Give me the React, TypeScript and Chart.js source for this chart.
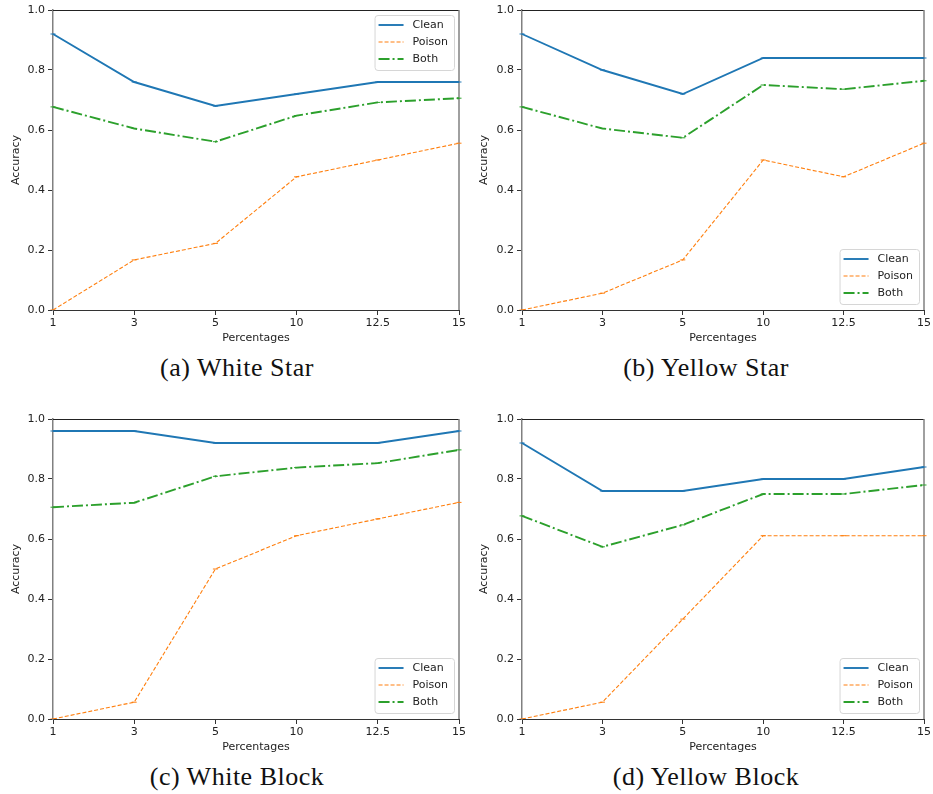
import React, { useEffect, useRef } from 'react';
import { Chart, registerables } from 'chart.js';

Chart.register(...registerables);

const percentages = ['1', '3', '5', '10', '12.5', '15'];
const yTicks = [0, 0.2, 0.4, 0.6, 0.8, 1.0];

const whiteStarClean = [0.92, 0.76, 0.68, 0.72, 0.76, 0.76];
const whiteStarPoison = [0.0, 0.167, 0.222, 0.444, 0.5, 0.556];
const whiteStarBoth = [0.677, 0.605, 0.561, 0.648, 0.692, 0.706];

const yellowStarClean = [0.92, 0.8, 0.72, 0.84, 0.84, 0.84];
const yellowStarPoison = [0.0, 0.056, 0.167, 0.5, 0.444, 0.556];
const yellowStarBoth = [0.677, 0.605, 0.574, 0.75, 0.736, 0.764];

const whiteBlockClean = [0.96, 0.96, 0.92, 0.92, 0.92, 0.96];
const whiteBlockPoison = [0.0, 0.056, 0.5, 0.611, 0.667, 0.722];
const whiteBlockBoth = [0.706, 0.721, 0.809, 0.838, 0.853, 0.897];

const yellowBlockClean = [0.92, 0.76, 0.76, 0.8, 0.8, 0.84];
const yellowBlockPoison = [0.0, 0.056, 0.333, 0.611, 0.611, 0.611];
const yellowBlockBoth = [0.677, 0.574, 0.647, 0.75, 0.75, 0.78];

const seriesNames = ['Clean', 'Poison', 'Both'];
const captions = ['(a) White Star', '(b) Yellow Star', '(c) White Block', '(d) Yellow Block'];

const FONT = "'DejaVu Sans', sans-serif";

type PanelSpec = {
  left: number;
  top: number;
  width: number;
  height: number;
  padRight: number;
  yWidth: number;
  titlePad: number;
  legendAt: 'top' | 'bottom';
  clean: number[];
  poison: number[];
  both: number[];
  caption: string;
  captionX: number;
  captionY: number;
};

const panels: PanelSpec[] = [
  { left: 0, top: 0, width: 470, height: 350, padRight: 11, yWidth: 53, titlePad: 10, legendAt: 'top', clean: whiteStarClean, poison: whiteStarPoison, both: whiteStarBoth, caption: captions[0], captionX: 237, captionY: 368 },
  { left: 470, top: 0, width: 463, height: 350, padRight: 7, yWidth: 52, titlePad: 8, legendAt: 'bottom', clean: yellowStarClean, poison: yellowStarPoison, both: yellowStarBoth, caption: captions[1], captionX: 706, captionY: 368 },
  { left: 0, top: 409, width: 470, height: 350, padRight: 11, yWidth: 53, titlePad: 10, legendAt: 'bottom', clean: whiteBlockClean, poison: whiteBlockPoison, both: whiteBlockBoth, caption: captions[2], captionX: 237, captionY: 777 },
  { left: 470, top: 409, width: 463, height: 350, padRight: 7, yWidth: 52, titlePad: 8, legendAt: 'bottom', clean: yellowBlockClean, poison: yellowBlockPoison, both: yellowBlockBoth, caption: captions[3], captionX: 706, captionY: 777 },
];

const BLUE = '#1f77b4';
const ORANGE = '#ff7f0e';
const GREEN = '#2ca02c';

const framePlugin = {
  id: 'frame',
  beforeDatasetsDraw(chart: any) {
    const { ctx, chartArea } = chart;
    ctx.save();
    ctx.strokeStyle = '#222';
    ctx.lineWidth = 1;
    ctx.beginPath();
    ctx.moveTo(chartArea.left, chartArea.top + 0.5);
    ctx.lineTo(chartArea.right, chartArea.top + 0.5);
    ctx.stroke();
    ctx.strokeStyle = '#808080';
    ctx.lineWidth = 1.5;
    ctx.beginPath();
    ctx.moveTo(chartArea.right, chartArea.top);
    ctx.lineTo(chartArea.right, chartArea.bottom);
    ctx.stroke();
    ctx.restore();
  },
};

const legendPlugin = {
  id: 'innerLegend',
  afterDatasetsDraw(chart: any) {
    const { ctx, chartArea } = chart;
    const where = chart.options.plugins.innerLegend?.at || 'top';
    const datasets = chart.data.datasets;
    ctx.save();
    ctx.font = `11px ${FONT}`;
    let maxText = 0;
    datasets.forEach((d: any) => {
      maxText = Math.max(maxText, ctx.measureText(d.label).width);
    });
    const w = 4 + 25 + 9 + maxText + 6;
    const h = 55;
    const x = chartArea.right - 5 - w;
    const y = where === 'top' ? chartArea.top + 5 : chartArea.bottom - 6 - h;
    ctx.beginPath();
    ctx.roundRect(x + 0.5, y + 0.5, w, h, 3);
    ctx.fillStyle = 'rgba(255,255,255,0.85)';
    ctx.fill();
    ctx.strokeStyle = '#d6d6d6';
    ctx.lineWidth = 1;
    ctx.stroke();
    datasets.forEach((d: any, i: number) => {
      const cy = y + 10 + i * 17;
      ctx.save();
      ctx.strokeStyle = d.borderColor;
      ctx.lineWidth = d.borderWidth;
      ctx.setLineDash(d.borderDash || []);
      ctx.beginPath();
      ctx.moveTo(x + 4, cy);
      ctx.lineTo(x + 29, cy);
      ctx.stroke();
      ctx.restore();
      ctx.fillStyle = '#222';
      ctx.textBaseline = 'middle';
      ctx.textAlign = 'left';
      ctx.fillText(d.label, x + 38, cy + 0.5);
    });
    ctx.restore();
  },
};

function Panel({ spec }: { spec: PanelSpec }) {
  const ref = useRef<HTMLCanvasElement | null>(null);
  useEffect(() => {
    if (!ref.current) return;
    const mk = (label: string, data: number[], color: string, width: number, dash: number[]) => ({
      label,
      data,
      borderColor: color,
      backgroundColor: color,
      borderWidth: width,
      borderDash: dash,
      fill: false,
      tension: 0,
      pointStyle: 'line',
      pointRadius: 2.5,
      pointBorderWidth: 1,
      pointBorderColor: color,
      pointHoverRadius: 2.5,
    });
    const chart = new Chart(ref.current, {
      type: 'line',
      data: {
        labels: percentages,
        datasets: [
          mk(seriesNames[0], spec.clean, BLUE, 1.9, []),
          mk(seriesNames[1], spec.poison, ORANGE, 1.1, [4, 2]),
          mk(seriesNames[2], spec.both, GREEN, 1.9, [11, 3, 2, 3]),
        ],
      },
      options: {
        animation: false,
        responsive: false,
        events: [],
        layout: { padding: { top: 10, right: spec.padRight, bottom: 5, left: 0 } },
        plugins: {
          legend: { display: false },
          tooltip: { enabled: false },
          innerLegend: { at: spec.legendAt },
        } as any,
        scales: {
          x: {
            type: 'category',
            offset: false,
            grid: { display: true, drawOnChartArea: false, drawTicks: true, tickLength: 5, color: '#333', offset: false },
            border: { display: true, color: '#333', width: 1 },
            ticks: { color: '#222', font: { family: FONT, size: 11 }, padding: 2, maxRotation: 0, autoSkip: false },
            title: { display: true, text: 'Percentages', color: '#222', font: { family: FONT, size: 11 }, padding: { top: 0, bottom: 0 } },
            afterFit: (s: any) => { s.height = 35; },
          },
          y: {
            min: 0,
            max: 1,
            afterBuildTicks: (s: any) => { s.ticks = yTicks.map((v) => ({ value: v })); },
            grid: { display: true, drawOnChartArea: false, drawTicks: true, tickLength: 5, color: '#333' },
            border: { display: true, color: '#808080', width: 1.5 },
            ticks: { color: '#222', font: { family: FONT, size: 11 }, padding: 3, callback: (v: any) => Number(v).toFixed(1) },
            title: { display: true, text: 'Accuracy', color: '#222', font: { family: FONT, size: 11 }, padding: { top: spec.titlePad, bottom: 0 } },
            afterFit: (s: any) => { s.width = spec.yWidth; },
          },
        },
      } as any,
      plugins: [framePlugin, legendPlugin],
    });
    return () => chart.destroy();
  }, [spec]);
  return (
    <>
      <canvas
        ref={ref}
        width={spec.width}
        height={spec.height}
        style={{ position: 'absolute', left: spec.left, top: spec.top, width: spec.width, height: spec.height }}
      />
      <div
        style={{
          position: 'absolute',
          left: spec.captionX - 200,
          top: spec.captionY - 15,
          width: 400,
          height: 30,
          lineHeight: '30px',
          textAlign: 'center',
          fontFamily: "'Liberation Serif', serif",
          fontSize: 26,
          letterSpacing: 0.5,
          color: '#111',
        }}
      >
        {spec.caption}
      </div>
    </>
  );
}

export default function App() {
  return (
    <div style={{ position: 'absolute', left: 0, top: 0, width: 933, height: 794, background: '#fff', overflow: 'hidden' }}>
      {panels.map((p, i) => (
        <Panel key={i} spec={p} />
      ))}
    </div>
  );
}
